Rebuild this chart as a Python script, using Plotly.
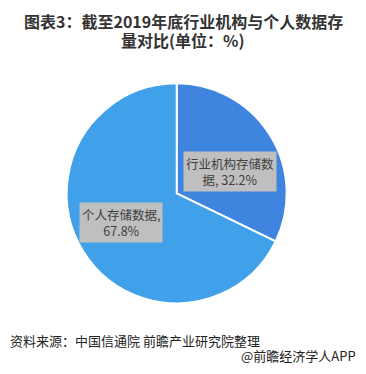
import math
import plotly.graph_objects as go

labels = ["行业机构存储数据", "个人存储数据"]
values = [32.2, 67.8]
label_text = ["行业机构存储数<br>据, 32.2%", "个人存储数据,<br>67.8%"]
colors = ["#3f85e0", "#41a0ea"]
title_lines = ["图表3：截至2019年底行业机构与个人数据存", "量对比(单位：%)"]

# page body has an 8px margin; lay out in page pixels and convert
OFF = 8
W, H = 366 - 2 * OFF, 374 - 2 * OFF
def fx(x):
    return (x - OFF) / W
def fy(y):
    return 1 - (y - OFF) / H

cx, cy, R = 176.7, 193.3, 110.0

fig = go.Figure(go.Pie(
    labels=labels, values=values, sort=False, direction="clockwise", rotation=0,
    marker=dict(colors=colors, line=dict(color="white", width=2)),
    textinfo="none", hoverinfo="label+percent", showlegend=False,
    domain=dict(x=[fx(cx - R), fx(cx + R)], y=[fy(cy + R), fy(cy - R)]),
))

total = sum(values)
cum = 0
rfrac = [0.58, 0.58]
dy_adj = [12, -5]
dx_adj = [-1, -2]
anns = []
for i, v in enumerate(values):
    mid = (cum + v / 2) / total * 2 * math.pi
    cum += v
    px = cx + R * rfrac[i] * math.sin(mid) + dx_adj[i]
    py = cy - R * rfrac[i] * math.cos(mid) + dy_adj[i]
    anns.append(dict(x=fx(px), y=fy(py), xref="paper", yref="paper",
                     xanchor="center", yanchor="middle",
                     text=label_text[i], showarrow=False, bgcolor="#bfbfbf",
                     font=dict(size=12.5, color="#404040", family="Noto Sans CJK SC"),
                     borderpad=2, align="center"))

title_font = dict(size=16, color="#333", family="Noto Sans CJK SC")
anns.append(dict(x=fx(183), y=1.0, xref="paper", yref="paper", xanchor="center", yanchor="top",
                 text="<b>" + title_lines[0] + "</b>", showarrow=False, borderpad=0, font=title_font))
anns.append(dict(x=fx(183), y=fy(40), xref="paper", yref="paper", xanchor="center", yanchor="middle",
                 text="<b>" + title_lines[1] + "</b>", showarrow=False, borderpad=0, font=title_font))
anns.append(dict(x=fx(8), y=fy(340), xref="paper", yref="paper", xanchor="left", yanchor="middle",
                 text="资料来源：中国信通院 前瞻产业研究院整理", showarrow=False,
                 font=dict(size=13, color="#222", family="Noto Sans CJK SC")))
anns.append(dict(x=fx(357), y=fy(355), xref="paper", yref="paper", xanchor="right", yanchor="middle",
                 text="@前瞻经济学人APP", showarrow=False, borderpad=0,
                 font=dict(size=13, color="#222", family="Noto Sans CJK SC")))

fig.update_layout(
    width=W, height=H, margin=dict(l=0, r=0, t=0, b=0),
    paper_bgcolor="white", plot_bgcolor="white",
    annotations=anns,
)
fig.write_html("out.html")
